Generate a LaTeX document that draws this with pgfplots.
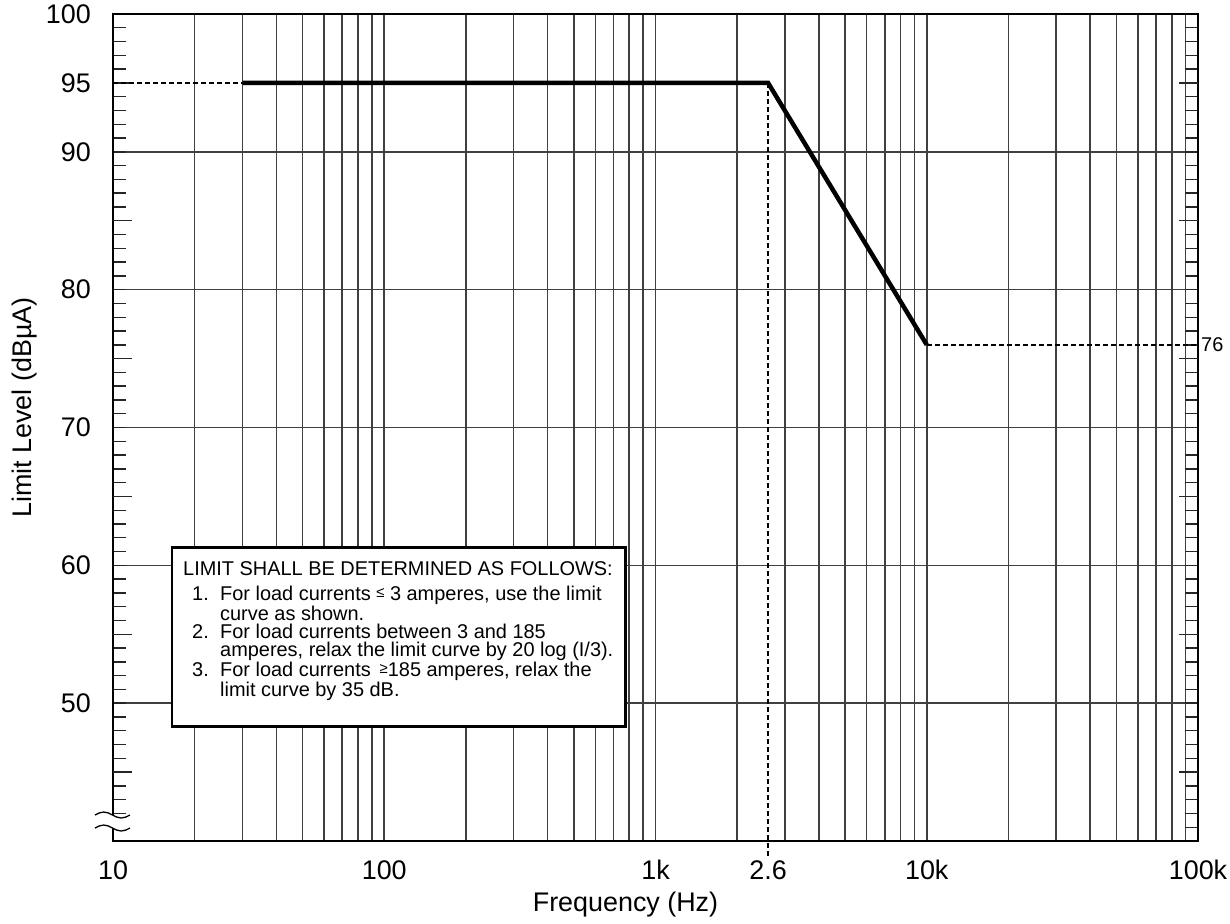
\documentclass[border=0pt]{standalone}
\usepackage{fontspec}
\setmainfont{Liberation Sans}
\usepackage{pgfplots}
\pgfplotsset{compat=1.18}
\usetikzlibrary{calc}
\begin{document}
\begin{tikzpicture}
\begin{axis}[
  scale only axis, width=1085bp, height=827bp,
  xmode=log, log basis x=10,
  xmin=10, xmax=100000, ymin=40, ymax=100,
  clip=false,
  xtick={10,100,1000,10000,100000},
  xticklabels={10,100,1k,10k,100k},
  minor xtick={20,30,40,50,60,70,80,90,200,300,400,500,600,700,800,900,2000,3000,4000,5000,6000,7000,8000,9000,20000,30000,40000,50000,60000,70000,80000,90000},
  extra x ticks={2600}, extra x tick labels={2.6},
  extra x tick style={grid=none},
  xtick style={draw=none},
  ytick={50,60,70,80,90,100},
  yticklabels={50,60,70,80,90,100},
  minor ytick={41,42,...,99},
  extra y ticks={45,55,65,75,85,95},
  extra y tick labels={,,,,,95},
  extra y tick style={grid=none, major tick length=19bp},
  major tick length=13bp, minor tick length=13bp,
  tick align=inside,
  ytick style={black!85, line width=1.4bp},
  xmajorgrids=true, xminorgrids=true, ymajorgrids=true,
  major grid style={black!75, line width=1.6bp},
  minor grid style={black!75, line width=1.6bp},
  axis line style={black, line width=2bp},
  /pgf/number format/assume math mode=true,
  xticklabel style={font=\fontsize{27}{27}\selectfont, inner sep=0pt, yshift=-19bp},
  yticklabel style={font=\fontsize{27}{27}\selectfont, inner sep=0pt, xshift=-22bp},
  xlabel={Frequency (Hz)},
  xlabel style={font=\fontsize{27}{27}\selectfont, at={(rel axis cs:0.5,0)}, anchor=north, inner sep=0pt, yshift=-51bp, xshift=-30bp},
  ylabel={Limit Level (dBµA)},
  ylabel style={font=\fontsize{27}{27}\selectfont, at={(rel axis cs:0,0.524)}, anchor=south, inner sep=0pt, yshift=76bp},
]
% limit curve
\addplot[black, line width=4.5bp, line join=miter] coordinates {(30,95) (2600,95) (10000,76)};
% dashed extensions
\addplot[black, line width=1.6bp, dash pattern=on 5bp off 3bp] coordinates {(10,95) (30,95)};
\addplot[black, line width=1.6bp, dash pattern=on 5bp off 3bp] coordinates {(2600,95) (2600,38.85)};
\addplot[black, line width=1.6bp, dash pattern=on 5bp off 3bp] coordinates {(10000,76) (100000,76)};
\node[anchor=west, inner sep=0pt, font=\fontsize{20}{20}\selectfont] at (axis cs:100000,76) {\hspace*{3bp}76};
% note box
\draw[black, line width=2.5bp, fill=white] (axis cs:16.5,48.3) rectangle (axis cs:774,61.3);
\node[anchor=north west, inner sep=0pt, align=left, font=\fontsize{20}{18.5}\selectfont]
  at ($(axis cs:16.5,61.3)+(11bp,-14bp)$) {%
  LIMIT SHALL BE DETERMINED AS FOLLOWS:\\[6.5bp]
  \hspace*{9bp}\makebox[28bp][l]{1.}For load currents {\fontsize{15}{15}\selectfont\raisebox{3bp}{≤}} 3 amperes, use the limit\\
  \hspace*{37bp}curve as shown.\\
  \hspace*{9bp}\makebox[28bp][l]{2.}For load currents between 3 and 185\\
  \hspace*{37bp}amperes, relax the limit curve by 20 log (I/3).\\
  \hspace*{9bp}\makebox[28bp][l]{3.}For load currents \,{\fontsize{15}{15}\selectfont\raisebox{3bp}{≥}}185 amperes, relax the\\
  \hspace*{37bp}limit curve by 35 dB.};
\coordinate (SW) at (rel axis cs:0,0);
\coordinate (NE) at (rel axis cs:1,1);
\end{axis}
% axis break symbol
\fill[white] ([shift={(-18bp,26bp)}]SW) sin ++(8.75bp,3bp) cos ++(8.75bp,-3bp) sin ++(8.75bp,-3bp) cos ++(8.75bp,3bp)
  -- ++(0,-13bp) sin ++(-8.75bp,-3bp) cos ++(-8.75bp,3bp) sin ++(-8.75bp,3bp) cos ++(-8.75bp,-3bp) -- cycle;
\draw[black, line width=1.3bp] ([shift={(-18bp,26bp)}]SW) sin ++(8.75bp,3bp) cos ++(8.75bp,-3bp) sin ++(8.75bp,-3bp) cos ++(8.75bp,3bp);
\draw[black, line width=1.3bp] ([shift={(-18bp,13bp)}]SW) sin ++(8.75bp,3bp) cos ++(8.75bp,-3bp) sin ++(8.75bp,-3bp) cos ++(8.75bp,3bp);
\pgfresetboundingbox
\path[use as bounding box] ([shift={(-113bp,-82bp)}]SW) rectangle ([shift={(32bp,14bp)}]NE);
\end{tikzpicture}
\end{document}
